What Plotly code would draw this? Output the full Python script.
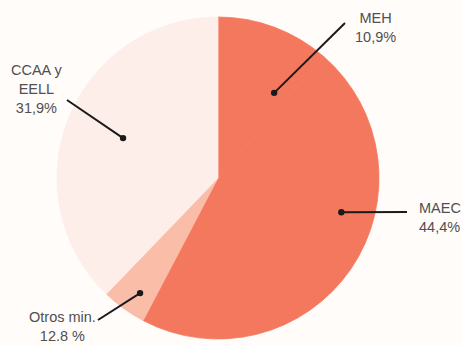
import math
import plotly.graph_objects as go

# Data
categories = ["MEH", "MAEC", "Otros min.", "CCAA y EELL"]
# slice sizes as drawn in the picture (%)
slice_values = [11.4, 46.3, 4.5, 37.8]
# label texts as printed
label_texts = ["MEH<br>10,9%", "MAEC<br>44,4%", "Otros min.<br>12.8 %", "CCAA y<br>EELL<br>31,9%"]
colors = ["#F4785E", "#F4785E", "#F9BDA8", "#FDEEEA"]

W, H = 461, 346
CX, CY, R = 218, 178, 161  # pie center / radius in px

fig = go.Figure(go.Pie(
    labels=categories,
    values=slice_values,
    sort=False,
    direction="clockwise",
    rotation=0,
    marker=dict(colors=colors, line=dict(width=0.8, color=colors)),
    textinfo="none",
    hoverinfo="label+percent",
    showlegend=False,
    domain=dict(x=[(CX - R) / W, (CX + R) / W], y=[(H - CY - R) / H, (H - CY + R) / H]),
))

def px(x, y):
    return x / W, 1 - y / H

# callout styling: dot (angle deg clockwise from top, radius px), line end px, text pos px, anchor
callouts = [
    dict(ang=33.4, rad=102, end=(345, 23), txt=(375, 27), xa="center"),
    dict(ang=105.5, rad=128, end=(407, 212), txt=(417, 217), xa="left"),
    dict(ang=214.1, rad=139, end=(98, 320), txt=(62, 326), xa="center"),
    dict(ang=292.8, rad=103, end=(67, 100), txt=(37, 89), xa="center"),
]

shapes, annotations = [], []
for c, t in zip(callouts, label_texts):
    a = math.radians(c["ang"])
    dx = CX + c["rad"] * math.sin(a)
    dy = CY - c["rad"] * math.cos(a)
    x0, y0 = px(dx, dy)
    x1, y1 = px(*c["end"])
    shapes.append(dict(type="line", xref="paper", yref="paper", x0=x0, y0=y0, x1=x1, y1=y1,
                       line=dict(color="#1a1a1a", width=2)))
    rr = 3.2
    shapes.append(dict(type="circle", xref="paper", yref="paper",
                       x0=(dx - rr) / W, x1=(dx + rr) / W, y0=1 - (dy + rr) / H, y1=1 - (dy - rr) / H,
                       fillcolor="#1a1a1a", line=dict(width=0)))
    tx, ty = px(*c["txt"])
    annotations.append(dict(x=tx, y=ty, xref="paper", yref="paper", text=t, showarrow=False,
                            xanchor=c["xa"], yanchor="middle", align="center" if c["xa"] == "center" else "left",
                            font=dict(family="Liberation Sans, Arial, sans-serif", size=14.5, color="#505050")))

fig.update_layout(
    width=W, height=H,
    margin=dict(l=0, r=0, t=0, b=0),
    paper_bgcolor="#FFFCFA",
    plot_bgcolor="#FFFCFA",
    shapes=shapes,
    annotations=annotations,
)

fig.write_html("out.html", config={"displayModeBar": False},
               post_script="document.body.style.margin='0';document.body.style.background='#FFFCFA';")
